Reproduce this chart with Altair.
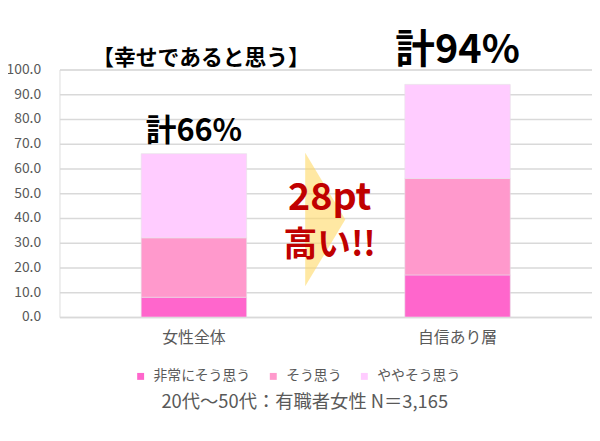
import altair as alt
import pandas as pd

groups = ["女性全体", "自信あり層"]
levels = ["非常にそう思う", "そう思う", "ややそう思う"]
very = [8, 17]
agree = [24, 39]
somewhat = [34, 38]
totals = [66, 94]
total_labels = ["計66%", "計94%"]
colors = ["#FF66CC", "#FF99CC", "#FFCCFF"]

FONT = "Noto Sans CJK JP"
GREY = "#595959"

rows = []
for i, g in enumerate(groups):
    for j, (lv, vals) in enumerate(zip(levels, [very, agree, somewhat])):
        rows.append({"group": g, "level": lv, "value": vals[i], "order": j})
df = pd.DataFrame(rows)

tdf = pd.DataFrame({"group": groups, "total": totals, "label": total_labels})

xscale = alt.Scale(paddingInner=0.6, paddingOuter=0.31)
xaxis = alt.Axis(
    title=None, labelAngle=0, labelFontSize=16, labelColor=GREY, labelFont=FONT,
    labelPadding=13, ticks=False, domainColor="#D9D9D9", domainWidth=1.5,
)
yscale = alt.Scale(domain=[0, 100], nice=False)
yaxis = alt.Axis(
    title=None, values=list(range(0, 101, 10)), format=".1f", labelFontSize=14,
    labelColor=GREY, labelFont=FONT, labelPadding=19, ticks=False, domain=False,
    gridColor="#D9D9D9", gridWidth=1.5, labelOverlap=False,
)

bars = alt.Chart(df).mark_bar(stroke="#E6E0E6", strokeWidth=0.6).encode(
    x=alt.X("group:N", sort=groups, scale=xscale, axis=xaxis),
    y=alt.Y("value:Q", stack="zero", scale=yscale, axis=yaxis),
    color=alt.Color(
        "level:N",
        scale=alt.Scale(domain=levels, range=colors),
        legend=alt.Legend(
            title=None, orient="none", direction="horizontal", legendX=75, legendY=303,
            symbolType="square", symbolSize=49, symbolStrokeWidth=0, labelFontSize=14,
            labelFont=FONT, labelColor=GREY, labelOffset=6, columnPadding=16,
        ),
    ),
    order=alt.Order("order:Q"),
)

tot_base = alt.Chart(tdf).encode(
    x=alt.X("group:N", sort=groups, scale=xscale, axis=xaxis),
    y=alt.Y("total:Q", scale=yscale, axis=yaxis),
    text="label:N",
)
tot_left = tot_base.transform_filter(alt.datum.group == groups[0]).mark_text(
    font=FONT, fontWeight="bold", fontSize=31, color="#000000", dy=-22
)
tot_right = tot_base.transform_filter(alt.datum.group == groups[1]).mark_text(
    font=FONT, fontWeight="bold", fontSize=40, color="#000000", dy=-34
)

one = pd.DataFrame({"t": ["28pt"], "u": ["高い!!"], "title": ["【幸せであると思う】"],
                    "note": ["20代～50代：有職者女性  N＝3,165"]})

arrow = alt.Chart(one).mark_point(
    shape="M-0.3,-1 L0.3,0 L-0.3,1 Z", filled=True, color="#FFD966", opacity=0.6,
    size=18225, strokeWidth=0,
).encode(x=alt.value(268.5), y=alt.value(151.5))

t28 = alt.Chart(one).mark_text(
    font=FONT, fontWeight="bold", fontSize=38, color="#C00000", baseline="middle"
).encode(text="t:N", x=alt.value(273), y=alt.value(131))
thigh = alt.Chart(one).mark_text(
    font=FONT, fontWeight="bold", fontSize=34, color="#C00000", baseline="middle"
).encode(text="u:N", x=alt.value(273), y=alt.value(178))

title = alt.Chart(one).mark_text(
    font=FONT, fontWeight="bold", fontSize=22, color="#000000", baseline="middle"
).encode(text="title:N", x=alt.value(143), y=alt.value(-12))

note = alt.Chart(one).mark_text(
    font=FONT, fontSize=18.5, color=GREY, baseline="middle", align="left"
).encode(text="note:N", x=alt.value(103), y=alt.value(336))

chart = alt.layer(bars, tot_left, tot_right, arrow, t28, thigh, title, note).properties(
    width=538, height=250,
    autosize=alt.AutoSizeParams(type="none"),
    padding={"left": 52, "top": 60, "right": 0, "bottom": 115},
).configure_view(stroke=None).configure(background="white")

chart.save("out.html", embed_options={"renderer": "svg", "actions": False})
